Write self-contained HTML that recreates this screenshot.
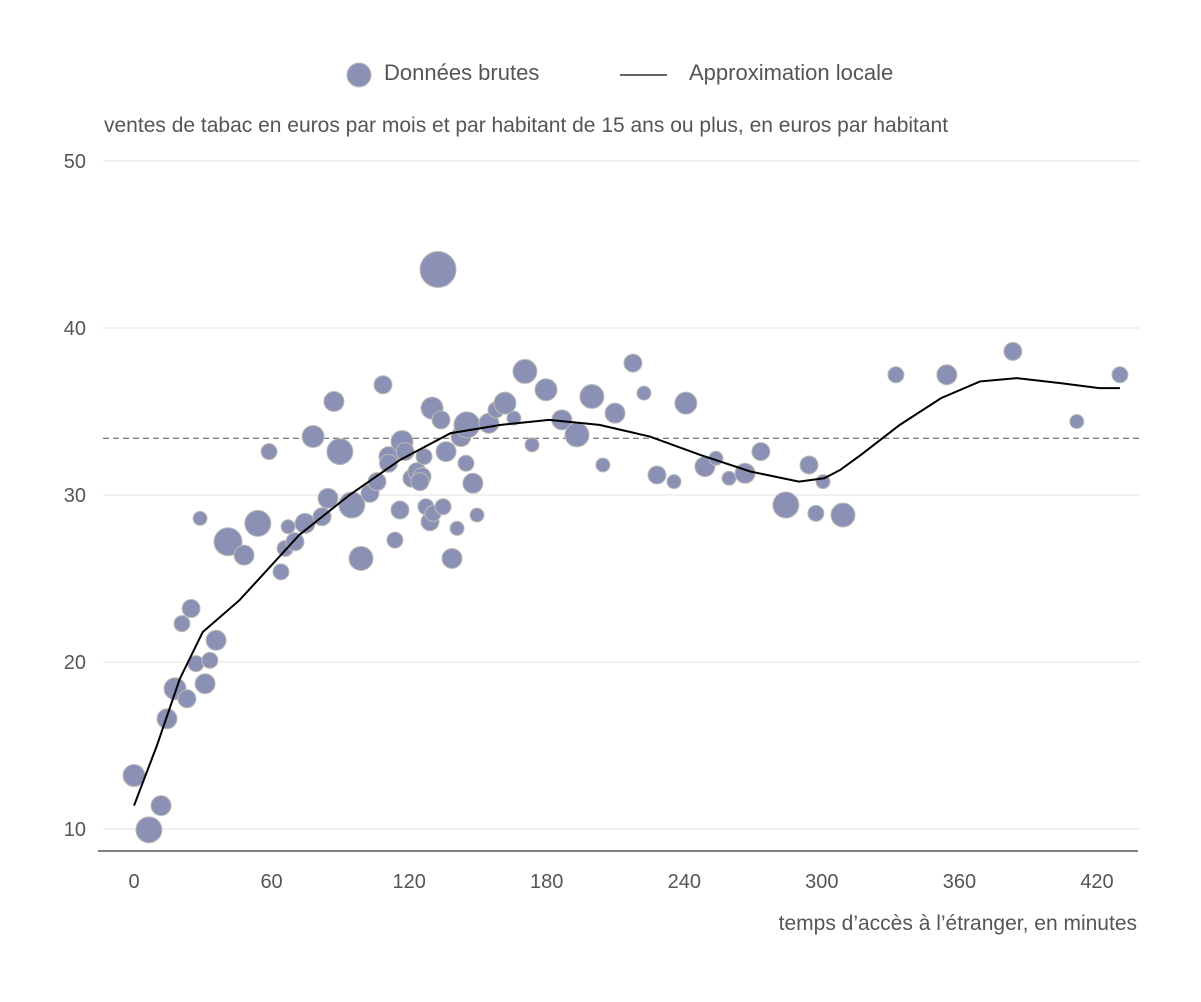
<!DOCTYPE html>
<html><head><meta charset="utf-8"><style>
body{margin:0;background:#fff;}
svg text{font-family:"Liberation Sans",sans-serif;fill:#555;}
</style></head><body>
<svg id="chart" width="1201" height="997" xmlns="http://www.w3.org/2000/svg">
<g>
<circle cx="359" cy="75" r="12" fill="#8b91b4" stroke="#bbb"/>
<text x="384" y="80" font-size="22">Données brutes</text>
<line x1="620" y1="75" x2="667" y2="75" stroke="#333" stroke-width="1.5"/>
<text x="689" y="80" font-size="22">Approximation locale</text>
</g>
<text x="104" y="132" font-size="21">ventes de tabac en euros par mois et par habitant de 15 ans ou plus, en euros par habitant</text>
<text x="1137" y="930" font-size="21" text-anchor="end">temps d’accès à l’étranger, en minutes</text>
<g id="grid"></g>
<g id="marks"></g>
</svg>
<script>
const xs=[0,6.5,11.8,14.4,17.9,20.9,23.1,24.9,27,28.8,31,33.1,35.8,41,48,54,58.9,64.1,65.9,67.2,70.2,74.6,78.1,82,84.6,87.2,89.8,95,99,102.9,106,108.6,111.2,111,113.8,116,116.9,118.2,121.2,123.4,125.6,126.5,124.7,127.3,129.1,130,130.4,132.6,133.9,134.8,136.1,138.7,140.9,142.6,144.8,145.2,147.8,149.6,154.8,157.9,161.8,165.7,170.5,173.6,179.7,186.6,193.2,199.7,204.5,209.8,217.6,222.4,228.1,235.5,240.7,249,253.8,259.5,266.5,273.4,284.3,294.4,297.4,300.5,309.2,332.3,354.5,383.3,411.2,430];
const ys=[13.2,9.95,11.4,16.6,18.4,22.3,17.8,23.2,19.9,28.6,18.7,20.1,21.3,27.2,26.4,28.3,32.6,25.4,26.8,28.1,27.2,28.3,33.5,28.7,29.8,35.6,32.6,29.4,26.2,30.1,30.8,36.6,32.3,31.9,27.3,29.1,33.2,32.6,31,31.4,31.1,32.3,30.8,29.3,28.4,35.2,28.9,43.5,34.5,29.3,32.6,26.2,28,33.5,31.9,34.2,30.7,28.8,34.3,35.1,35.5,34.6,37.4,33,36.3,34.5,33.6,35.9,31.8,34.9,37.9,36.1,31.2,30.8,35.5,31.7,32.2,31,31.3,32.6,29.4,31.8,28.9,30.8,28.8,37.2,37.2,38.6,34.4,37.2];
const sizes=[11,13,10,10,11,8,9,9,8,7,10,8,10,14,10,13,8,8,8,7,9,10,11,9,10,10,13,13,12,9,9,9,10,9,8,9,11,9,9,9,9,8,9,8,9,11,8,18,9,8,10,10,7,10,8,13,10,7,10,8,11,7,12,7,11,10,12,12,7,10,9,7,9,7,11,10,7,7,10,9,13,9,8,7,12,8,10,9,7,8];
const curveX=[0,10,20,30,46,72,94,116,138,160,181,203,225,247,269,290,301,308,317,334,352,369,385,404,421,430];
const curveY=[11.4,15,19,21.8,23.7,27.6,30,32.1,33.7,34.2,34.5,34.2,33.5,32.4,31.4,30.8,31,31.5,32.4,34.2,35.8,36.8,37,36.7,36.4,36.4];
const yTicks=[10,20,30,40,50];
const xTicks=[0,60,120,180,240,300,360,420];
const meanY=33.4;
const X=v=>134+v*(1097-134)/420;
const Y=v=>829-(v-10)*(829-161)/40;
const NS="http://www.w3.org/2000/svg";
const grid=document.getElementById('grid'),marks=document.getElementById('marks');
function mk(tag,attrs,parent){const e=document.createElementNS(NS,tag);for(const k in attrs)e.setAttribute(k,attrs[k]);parent.appendChild(e);return e;}
yTicks.forEach(t=>{
 const l=mk('line',{x1:103,x2:1140,y1:Y(t),y2:Y(t),stroke:'#e3e3e3'},grid);
 
 
 const tx=mk('text',{x:86,y:Y(t)+7,'font-size':20,'text-anchor':'end'},grid);tx.textContent=t;
 
 
});
xTicks.forEach(t=>{
 const tx=mk('text',{x:X(t),y:888,'font-size':20,'text-anchor':'middle'},grid);tx.textContent=t;
 
 
});
const ax=mk('line',{x1:98,x2:1138,y1:851,y2:851,stroke:'#555','stroke-width':1.5},grid);


const ml=mk('line',{x1:103,x2:1140,y1:Y(meanY),y2:Y(meanY),stroke:'#555','stroke-dasharray':'6,4'},grid);


xs.forEach((v,i)=>{
 const c=mk('circle',{cx:X(v),cy:Y(ys[i]),r:sizes[i],fill:'#8b91b4',stroke:'#bdbbb8','stroke-width':1},marks);
 
 
});
const p=mk('path',{d:curveX.map((v,i)=>(i?'L':'M')+X(v)+','+Y(curveY[i])).join(''),fill:'none',stroke:'#000','stroke-width':2},marks);


</script>
</body></html>
